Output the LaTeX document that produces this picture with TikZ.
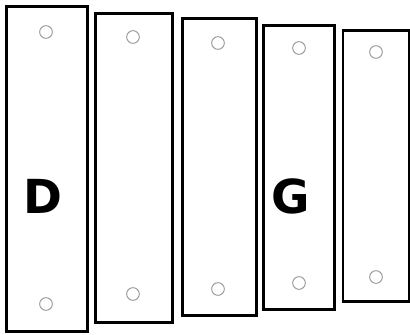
\documentclass[tikz,border=0pt]{standalone}
\usepackage{fontspec}
\newfontfamily\barfont{DejaVu Sans}
\usepackage{tikz}
\usetikzlibrary{positioning,shapes}
\tikzset{
  barbox/.style={draw, line width=2.4pt, fill=white, inner sep=0pt, outer sep=0pt},
  pinhole/.style={circle, draw=gray!80, fill=white, line width=0.8pt,
                  minimum size=0.38cm, inner sep=0pt},
  barlabel/.style={font=\barfont\bfseries\fontsize{40}{40}\selectfont, inner sep=0pt}
}
\begin{document}
\begin{tikzpicture}[x=0.03cm, y=-0.03cm]
    \useasboundingbox (0,0) rectangle (410,335);

    % bars, longest first
    \node[barbox, minimum width=2.43cm, minimum height=9.75cm] (B1) at (47,169)    {};
    \node[barbox, minimum width=2.31cm, minimum height=9.27cm] (B2) at (134,168)   {};
    \node[barbox, minimum width=2.22cm, minimum height=8.91cm] (B3) at (219.5,167) {};
    \node[barbox, minimum width=2.13cm, minimum height=8.52cm] (B4) at (299,167.5) {};
    \node[barbox, minimum width=1.98cm, minimum height=8.13cm] (B5) at (376,166)   {};

    % holes
    \node[pinhole] (h1t) at (46,32)  {}; \node[pinhole] (h1b) at (46,304) {};
    \node[pinhole] (h2t) at (133,37) {}; \node[pinhole] (h2b) at (133,294) {};
    \node[pinhole] (h3t) at (218,43) {}; \node[pinhole] (h3b) at (218,289) {};
    \node[pinhole] (h4t) at (299,48) {}; \node[pinhole] (h4b) at (299,283) {};
    \node[pinhole] (h5t) at (376,52) {}; \node[pinhole] (h5b) at (376,277) {};

    % note names
    \node[barlabel] (nD) at (43,196)  {D};
    \node[barlabel] (nG) at (291,196) {G};
\end{tikzpicture}
\end{document}
